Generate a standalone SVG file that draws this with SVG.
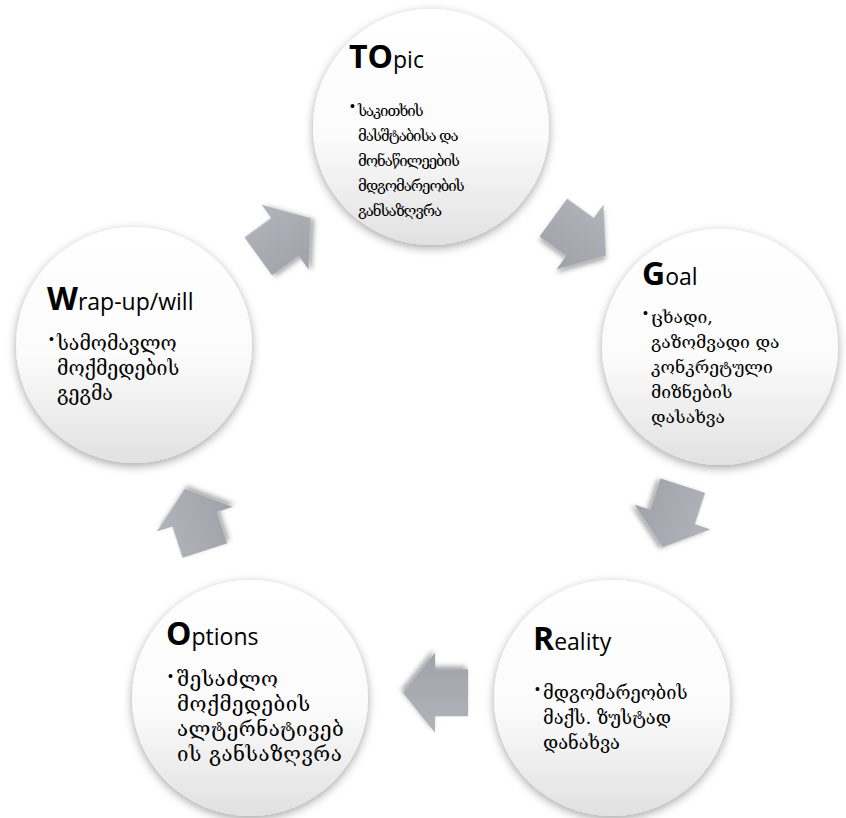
<svg xmlns="http://www.w3.org/2000/svg" width="846" height="818" viewBox="0 0 846 818">
<defs>
  <linearGradient id="cg" x1="0" y1="0" x2="0" y2="1">
    <stop offset="0" stop-color="#ffffff"/>
    <stop offset="0.55" stop-color="#fbfbfb"/>
    <stop offset="1" stop-color="#e1e1e1"/>
  </linearGradient>
  <linearGradient id="ag" x1="0" y1="0" x2="0" y2="1">
    <stop offset="0" stop-color="#b1b4bb"/>
    <stop offset="1" stop-color="#9fa2a9"/>
  </linearGradient>
  <filter id="cs" x="-20%" y="-20%" width="140%" height="140%">
    <feDropShadow dx="0" dy="3" stdDeviation="5" flood-color="#000" flood-opacity="0.35"/>
  </filter>
  <filter id="as" x="-30%" y="-30%" width="160%" height="160%">
    <feDropShadow dx="2" dy="3" stdDeviation="2.5" flood-color="#000" flood-opacity="0.35"/>
  </filter>
  <path id="arrow" d="M -33,-23.5 L 0,-23.5 L 0,-40 L 32,0 L 0,40 L 0,23.5 L -33,23.5 Z"/>
</defs>
<style>
  .circ { fill: url(#cg); filter: url(#cs); }
  .arr { fill: url(#ag); filter: url(#as); }
  .big { font-family: "Open Sans", "Liberation Sans", sans-serif; font-weight: 700; font-size: 32px; fill: #000; }
  .sm { font-family: "Open Sans", "Liberation Sans", sans-serif; font-weight: 400; font-size: 23px; fill: #000; }
  .ka { font-family: "DejaVu Serif", "DejaVu Sans", "Noto Sans", serif; fill: #000; }
  .bul { font-family: "Liberation Sans", sans-serif; font-size: 14px; fill: #000; }
</style>
<rect width="846" height="818" fill="#ffffff"/>

<g id="node-topic">
  <circle class="circ" cx="431" cy="127" r="118"/>
  <text x="349" y="68"><tspan class="big">TO</tspan><tspan class="sm">pic</tspan></text>
  <text class="bul" x="350" y="111">•</text>
  <text class="ka" font-size="15" letter-spacing="-1.1">
    <tspan x="358" y="116">საკითხის</tspan>
    <tspan x="358" y="141">მასშტაბისა და</tspan>
    <tspan x="358" y="166">მონაწილეების</tspan>
    <tspan x="358" y="191">მდგომარეობის</tspan>
    <tspan x="358" y="216">განსაზღვრა</tspan>
  </text>
</g>

<g id="node-goal">
  <circle class="circ" cx="720" cy="347" r="118"/>
  <text x="642" y="285"><tspan class="big">G</tspan><tspan class="sm">oal</tspan></text>
  <text class="bul" x="643" y="318">•</text>
  <text class="ka" font-size="17.5">
    <tspan x="651" y="323">ცხადი,</tspan>
    <tspan x="651" y="348">გაზომვადი და</tspan>
    <tspan x="651" y="373">კონკრეტული</tspan>
    <tspan x="651" y="398">მიზნების</tspan>
    <tspan x="651" y="423">დასახვა</tspan>
  </text>
</g>

<g id="node-reality">
  <circle class="circ" cx="612" cy="698" r="118"/>
  <text x="533" y="650"><tspan class="big">R</tspan><tspan class="sm">eality</tspan></text>
  <text class="bul" x="535" y="694">•</text>
  <text class="ka" font-size="18.3">
    <tspan x="543" y="699">მდგომარეობის</tspan>
    <tspan x="543" y="724">მაქს. ზუსტად</tspan>
    <tspan x="543" y="749">დანახვა</tspan>
  </text>
</g>

<g id="node-options">
  <circle class="circ" cx="250" cy="698" r="118"/>
  <text x="166" y="645"><tspan class="big">O</tspan><tspan class="sm">ptions</tspan></text>
  <text class="bul" x="168" y="681">•</text>
  <text class="ka" font-size="20.5" letter-spacing="0.5">
    <tspan x="177" y="686">შესაძლო</tspan>
    <tspan x="177" y="711">მოქმედების</tspan>
    <tspan x="177" y="736">ალტერნატივებ</tspan>
    <tspan x="177" y="761">ის განსაზღვრა</tspan>
  </text>
</g>

<g id="node-wrapup">
  <circle class="circ" cx="134" cy="345" r="118"/>
  <text x="47" y="310"><tspan class="big">W</tspan><tspan class="sm">rap-up/will</tspan></text>
  <text class="bul" x="49" y="344">•</text>
  <text class="ka" font-size="19.5">
    <tspan x="57" y="350">სამომავლო</tspan>
    <tspan x="57" y="375">მოქმედების</tspan>
    <tspan x="57" y="400">გეგმა</tspan>
  </text>
</g>

<g id="connectors">
  <use class="arr" href="#arrow" transform="translate(285,237) rotate(-36)"/>
  <use class="arr" href="#arrow" transform="translate(580,237) rotate(36)"/>
  <use class="arr" href="#arrow" transform="translate(672.6,517) rotate(108)"/>
  <use class="arr" href="#arrow" transform="translate(435,692.7) rotate(180)"/>
  <use class="arr" href="#arrow" transform="translate(194.7,519.2) rotate(252)"/>
</g>
</svg>
